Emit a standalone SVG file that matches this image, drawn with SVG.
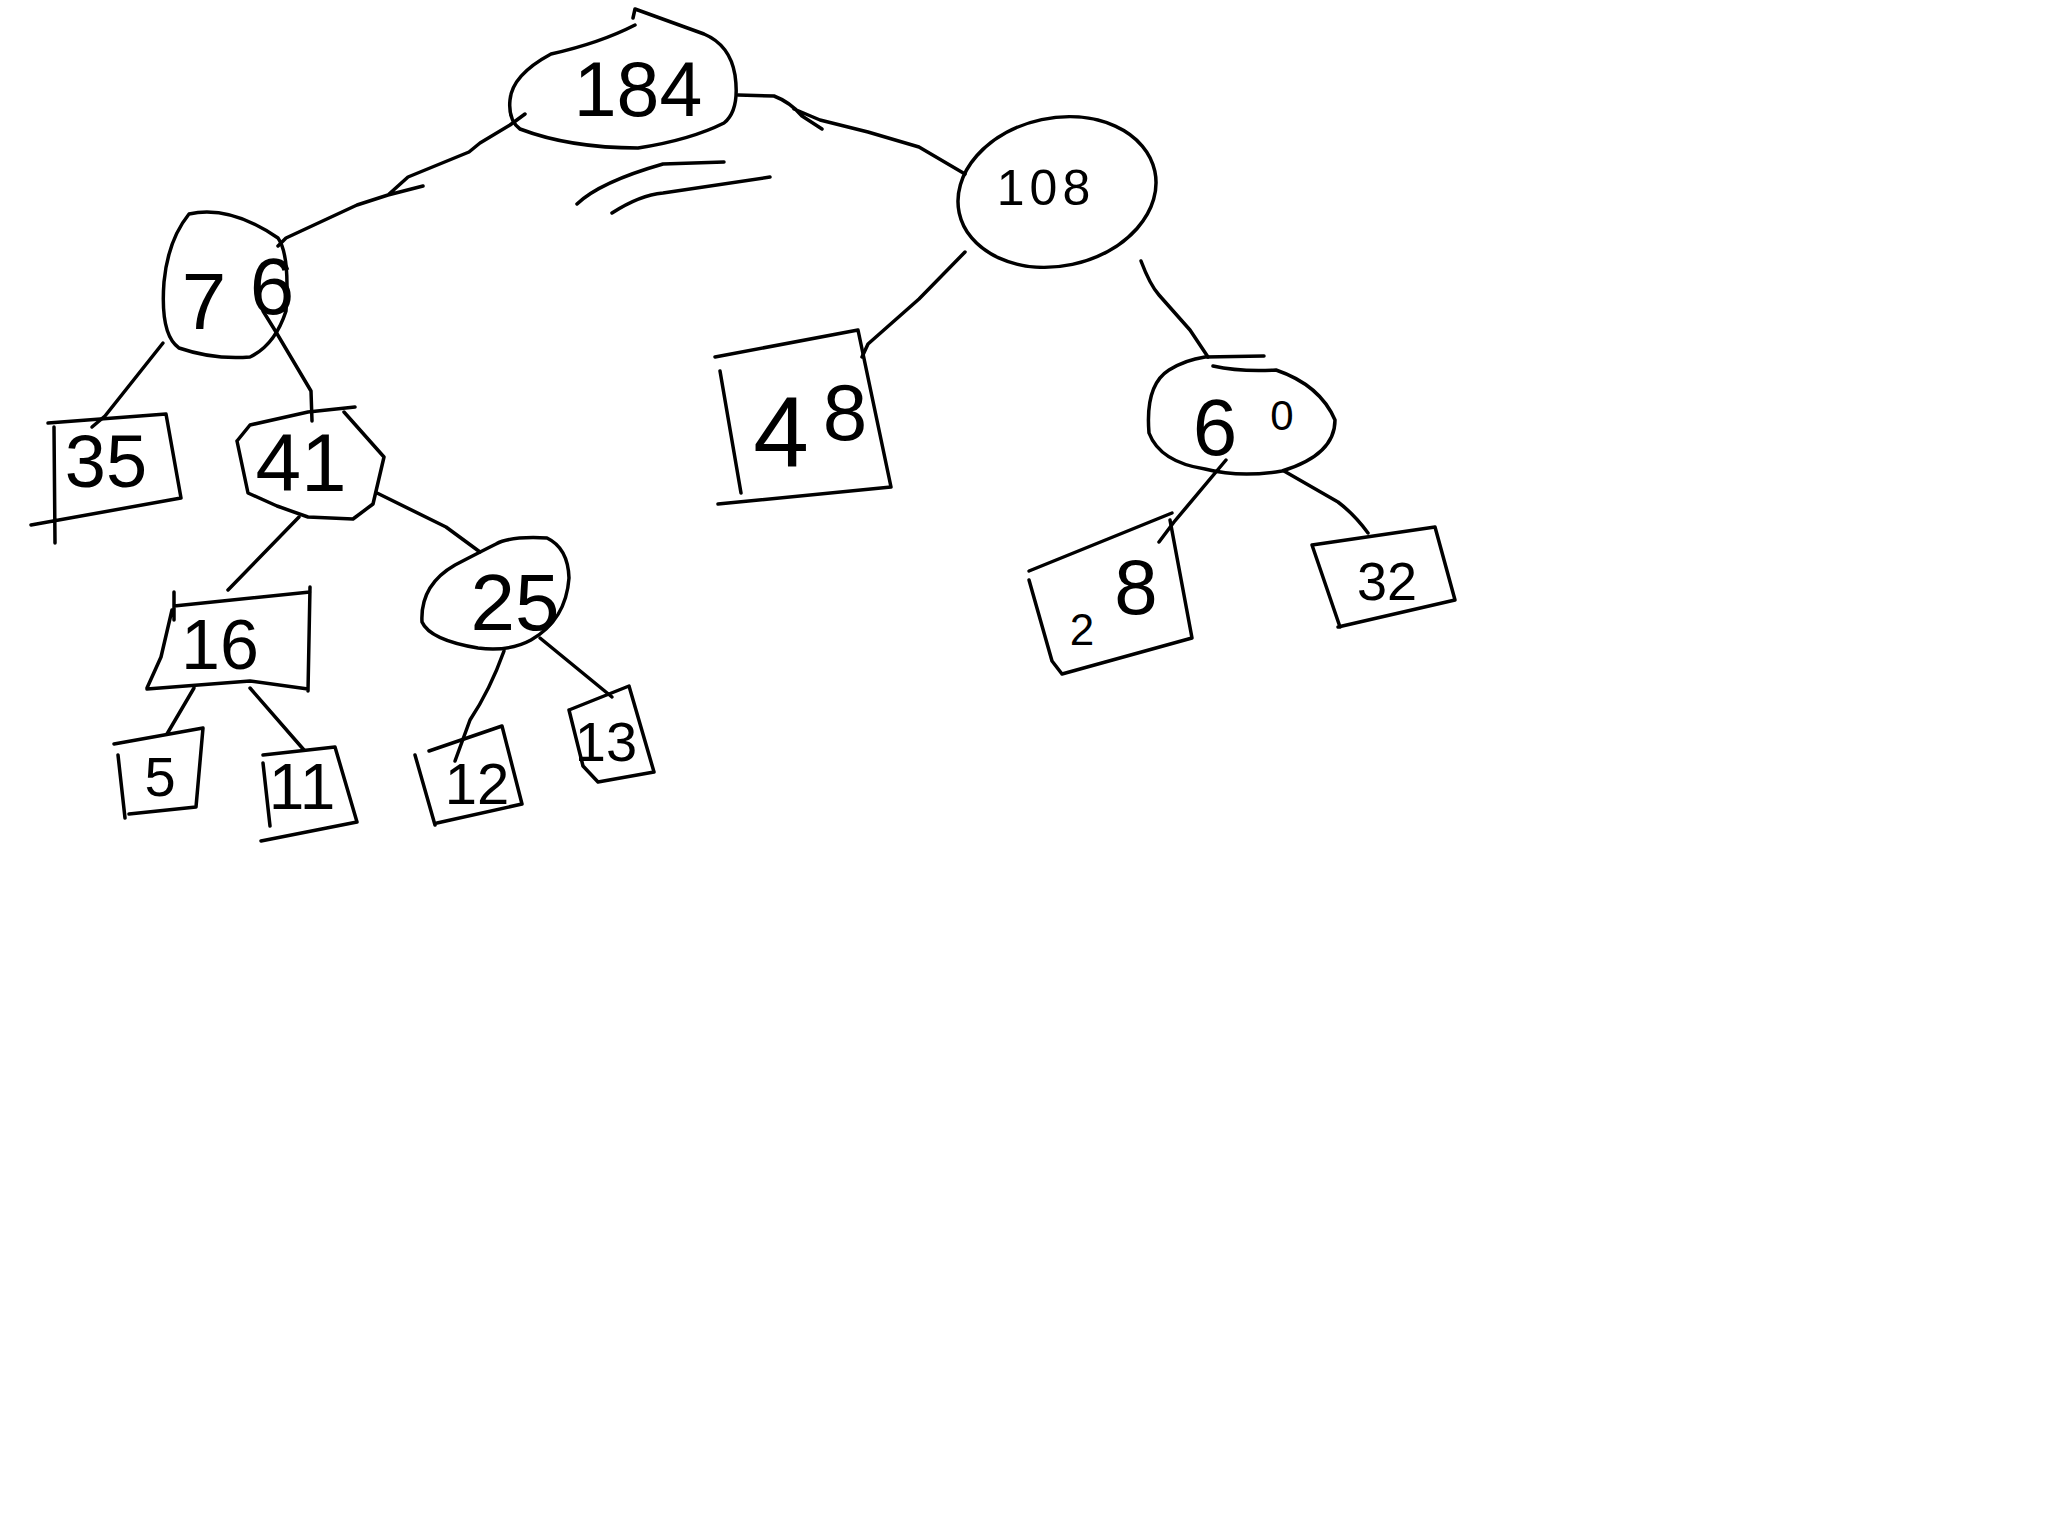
<svg xmlns="http://www.w3.org/2000/svg" width="2048" height="1536" viewBox="0 0 2048 1536">
<style>
.s{fill:none;stroke:#000;stroke-width:3.5;stroke-linejoin:round;stroke-linecap:round}
.t{font-family:"Liberation Sans",Arial,sans-serif;fill:#000;text-anchor:middle}
</style>
<rect width="2048" height="1536" fill="#fff"/>
<g id="connectors" class="s">
<path d="M525,114 L510,125 L480,143 L469,152 L408,177 L388,195 M423,186 L388,195 L357,205 L286,238 L278,246"/>
<path d="M577,204 Q600,182 663,164 L724,162 M612,213 Q640,195 663,193 L770,177"/>
<path d="M738,95 L774,96 Q790,102 802,116 L822,129 M794,109 L820,120 L868,132 L919,147 L965,174"/>
<path d="M163,343 L105,416 M92,427 L105,416"/>
<path d="M263,311 L276,332 L311,391 L312,421"/>
<path d="M299,517 L228,590"/>
<path d="M377,493 L446,527 L480,552"/>
<path d="M194,688 L167,734"/>
<path d="M250,688 L304,750"/>
<path d="M504,651 Q490,690 470,720 L455,761"/>
<path d="M540,638 L612,697"/>
<path d="M965,252 L919,299 L868,344 L862,357"/>
<path d="M1141,261 Q1150,285 1159,295 L1190,330 L1208,357"/>
<path d="M1226,460 L1174,522 L1159,542"/>
<path d="M1284,471 L1338,502 Q1355,515 1368,533"/>
</g>
<g id="n184"><path class="s" d="M633,18 L635,9 L704,34 Q730,45 735,75 Q740,110 724,123 Q690,140 638,148 Q570,148 520,129 Q508,120 510,100 Q512,75 551,54 Q600,43 635,25"/><text class="t" x="638" y="116" font-size="77">184</text></g>
<g id="n76"><path class="s" d="M189,214 Q230,205 278,238 Q290,255 286,311 Q275,345 250,357 Q214,360 179,348 Q160,335 164,282 Q168,240 189,214 Z"/><text class="t" font-size="80"><tspan x="204" y="329">7</tspan><tspan x="272" y="314">6</tspan></text></g>
<g id="n108"><ellipse class="s" cx="1057" cy="192" rx="100" ry="74" transform="rotate(-12 1057 192)"/><text class="t" x="1046" y="205" font-size="50" letter-spacing="5">108</text></g>
<g id="n35"><path class="s" d="M48,423 L166,414 L181,498 L31,525 M54,427 L55,543"/><text class="t" x="106" y="487" font-size="74">35</text></g>
<g id="n41"><path class="s" d="M237,441 L250,425 L308,412 L355,407 M344,412 L384,457 L373,504 L353,519 L308,517 L277,506 L248,493 L237,441"/><text class="t" x="301" y="491" font-size="82">41</text></g>
<g id="n48"><path class="s" d="M715,357 L858,330 L891,487 L718,504 M720,371 L741,493"/><text class="t"><tspan x="781" y="467" font-size="100">4</tspan><tspan x="845" y="440" font-size="80">8</tspan></text></g>
<g id="n60"><path class="s" d="M1205,357 L1264,356 M1213,366 Q1240,372 1276,370 Q1320,385 1335,420 Q1335,455 1282,471 Q1240,478 1205,469 Q1160,462 1149,433 Q1145,385 1169,370 Q1185,360 1205,357"/><text class="t"><tspan x="1215" y="455" font-size="80">6</tspan><tspan x="1282" y="430" font-size="42">0</tspan></text></g>
<g id="n16"><path class="s" d="M174,606 L310,592 M174,592 L174,620 M310,587 L308,691 M147,689 L250,681 L308,689 M172,610 L161,657 L147,688"/><text class="t" x="220" y="669" font-size="70">16</text></g>
<g id="n25"><path class="s" d="M496,544 Q510,536 547,538 Q568,548 569,578 Q566,620 531,640 Q509,652 478,648 Q430,640 422,622 Q420,585 455,565 Q480,552 496,544 Z"/><text class="t" x="515" y="630" font-size="80">25</text></g>
<g id="n28"><path class="s" d="M1029,571 L1172,513 M1170,520 L1192,638 L1062,674 M1029,580 L1052,661 L1062,674"/><text class="t"><tspan x="1082" y="645" font-size="44">2</tspan><tspan x="1136" y="614" font-size="78">8</tspan></text></g>
<g id="n32"><path class="s" d="M1312,545 L1435,527 L1455,600 L1338,627 M1312,545 L1340,627"/><text class="t" x="1387" y="600" font-size="54">32</text></g>
<g id="n5"><path class="s" d="M114,744 L203,728 L196,807 L129,814 M118,755 L125,818"/><text class="t" x="160" y="796" font-size="56">5</text></g>
<g id="n11"><path class="s" d="M263,755 L335,747 L357,822 L261,841 M263,763 L270,826"/><text class="t" x="302" y="809" font-size="64">11</text></g>
<g id="n12"><path class="s" d="M429,751 L502,726 L522,804 L437,823 M415,755 L435,825"/><text class="t" x="477" y="804" font-size="58">12</text></g>
<g id="n13"><path class="s" d="M569,710 L629,686 L654,772 L598,782 M569,710 L583,766 L598,782"/><text class="t" x="606" y="761" font-size="56">13</text></g>
</svg>
